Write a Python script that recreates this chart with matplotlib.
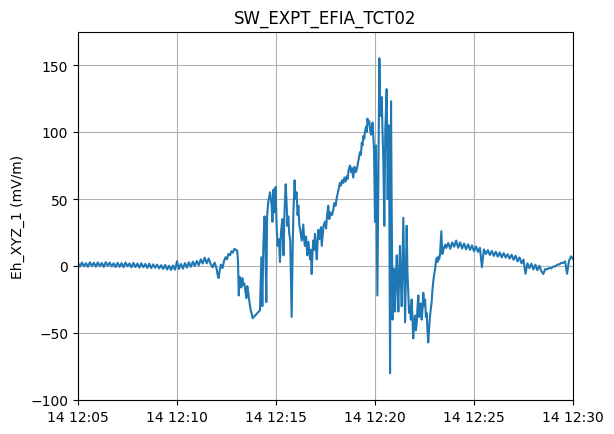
import numpy as np
import pandas as pd
import matplotlib
matplotlib.use("Agg")
import matplotlib.pyplot as plt
import matplotlib.dates as mdates

## start of record
t0 = pd.Timestamp("2016-03-14 12:05:00")

## quiet part, one sample every 0.1 min from 12:05
quiet1_v = [
    2.3, -0.4, 2.6, -0.2, 2.1, -0.6, 2.8, 0.0, 2.4, -0.5,
    2.7, -0.1, 2.2, -0.7, 2.9, 0.1, 2.5, -0.3, 2.0, -0.8,
    2.4, -0.6, 2.1, -0.9, 2.6, -0.2, 1.9, -1.0, 2.3, -0.8,
    1.8, -1.2, 2.0, -0.9, 1.5, -1.4, 1.7, -1.6, 1.2, -1.3,
    1.0, -1.8, 0.6, -2.2, 0.8, -2.6, 0.2, -3.0, 0.4, -2.8,
    3.6, -2.2, 1.5, -2.0, 2.2, -1.2, 2.8, -0.6, 3.2, 0.0,
    3.8, 0.6, 5.0, 1.8, 6.2, 2.0, 5.6, 1.5, -1.0, 2.5,
]

## active part (minutes after 12:05)
act_t = [
    7.00, 7.05, 7.10, 7.15, 7.22, 7.30, 7.38, 7.45, 7.52, 7.60,
    7.68, 7.75, 7.82, 7.90, 7.97, 8.04, 8.08, 8.12, 8.16, 8.20,
    8.25, 8.30, 8.35, 8.40, 8.45, 8.50, 8.55, 8.60, 8.66, 8.72,
    8.78, 8.82,
    9.19, 9.26, 9.31, 9.36, 9.42, 9.47, 9.51, 9.55, 9.61, 9.70,
    9.78, 9.82, 9.87, 9.92, 9.98, 10.03, 10.08, 10.15, 10.20, 10.25,
    10.32, 10.38, 10.43, 10.49, 10.54, 10.58, 10.62, 10.67, 10.72, 10.79,
    10.84, 10.88, 10.94, 10.98, 11.04, 11.09, 11.13, 11.18, 11.21, 11.30,
    11.34, 11.38, 11.42, 11.46, 11.52, 11.58, 11.64, 11.72, 11.77, 11.80,
    11.84, 11.88, 11.93, 11.97, 12.02, 12.06, 12.10, 12.14, 12.18, 12.22,
    12.27, 12.31, 12.35, 12.40, 12.47, 12.53, 12.58, 12.64, 12.69, 12.75,
    12.83, 12.89, 12.95, 13.01, 13.07, 13.13, 13.18, 13.23, 13.28, 13.33,
    13.40, 13.46, 13.51, 13.57, 13.62, 13.67, 13.74, 13.79, 13.84, 13.90,
    13.96, 14.02, 14.08, 14.13, 14.18, 14.24, 14.29, 14.33, 14.37, 14.41,
    14.46, 14.49, 14.55, 14.59, 14.62, 14.67, 14.71, 14.75, 14.80, 14.85,
    14.88, 14.92, 14.95, 15.00, 15.05, 15.12, 15.17, 15.22, 15.25, 15.29,
    15.34, 15.38, 15.42, 15.47, 15.52, 15.59, 15.64, 15.69, 15.72, 15.76,
    15.81, 15.84, 15.89, 15.96, 16.01, 16.05, 16.10, 16.14, 16.18, 16.22,
    16.26, 16.30, 16.35, 16.39, 16.43, 16.47, 16.52, 16.56, 16.60, 16.64,
    16.68, 16.72, 16.77, 16.81, 16.85, 16.89, 16.93, 16.98, 17.02, 17.06,
    17.10, 17.15, 17.19, 17.23, 17.27, 17.31, 17.36, 17.40, 17.44, 17.48,
    17.53, 17.57, 17.61, 17.65, 17.69, 17.74, 17.78, 17.82, 17.86, 17.90,
    17.94, 17.99, 18.03, 18.08, 18.12, 18.16, 18.20, 18.24, 18.28, 18.35,
    18.40, 18.45, 18.50, 18.55,
]
act_v = [
    -2.0, -6.5, -9.0, -4.0, 1.0, -1.5, 4.0, 6.5, 5.0, 9.0,
    8.0, 11.0, 10.0, 12.8, 12.0, 11.5, 4.0, -22.0, -8.0, -12.0,
    -16.0, -9.0, -14.0, -13.0, -18.0, -24.0, -15.0, -20.0, -27.0, -33.0,
    -36.0, -39.0,
    -33, 6.5, -30, 15, 37, 10, -27, 37, 48, 55,
    45, 33, 57, 40, 59, 30, 15, 20, 3, 25,
    35, 8, 40, 61, 45, 30, 37, 24, 19, -38,
    12, 40, 64, 50, 55, 38, 45, 30, 28, 19,
    25, 31, 20, 15, 22, 8, 18, 5, 12, -6,
    8, 19, 12, 24, 14, 5, 18, 27, 20, 22,
    29, 15, 22, 30, 33, 28, 38, 45, 35, 40,
    38, 42, 47, 45, 51, 55, 58, 62, 60, 64,
    62, 66, 63, 67, 65, 72, 75, 70, 73, 66,
    74, 70, 72, 76, 80, 85, 83, 92, 90, 97,
    95, 100, 104, 100, 110, 106, 108, 102, 98, 105,
    107, 95, 87, 33, 90, -22, 62, 155, 130, 112,
    126, 100, 80, 30, 102, 132, 50, 105, 60, -80,
    123, 48, -40, -2, -34, -10, 8, -15, -34, -5,
    15, -8, -30, 5, 36, 0, -42, -5, 30, -5,
    -20, -35, -30, -40, -25, -38, -54, -42, -37, -48,
    -44, -30, -22, -38, -35, -28, -40, -32, -20, -30,
    -25, -38, -35, -48, -57, -45, -37, -32, -27, -18,
    -12, -6, -3, 4, 6, 3, 7, 5, 8, 26,
    9, 12, 14, 16,
]

## quiet part after the event, one sample every 0.1 min from 12:23.6
quiet2_v = [
    13.5, 17.2, 12.8, 17.6,
    14.4, 19.0, 13.6, 17.6, 13.0, 16.8, 12.4, 16.2, 12.0, 15.4,
    11.0, 14.6, 10.5, 13.6, -0.8, 12.4, 9.0, 11.8, 8.2, 11.2,
    7.5, 10.7, 7.0, 10.1, 6.4, 9.6, 6.2, 8.8, 5.5, 8.4,
    4.6, 7.7, 3.4, 6.4, 2.0, 4.8, -5.8, 2.0, -1.6, 1.7,
    -2.6, 1.0, -3.2, 0.2, -3.7, -6.0, -2.3, -2.4, -1.5, -1.8,
    -0.4, -0.4, 1.0, 1.1, 2.3, 2.3, 3.4, -5.8, 4.0, 7.2,
    5.2,
]

## build time axis
minutes = np.concatenate([
    np.arange(len(quiet1_v)) * 0.1,
    np.array(act_t),
    18.6 + np.arange(len(quiet2_v)) * 0.1,
])
values = np.concatenate([quiet1_v, act_v, quiet2_v])
times = t0 + pd.to_timedelta(minutes, unit="min")

## chart
fig = plt.figure(figsize=(6.14, 4.35), dpi=100)
ax = fig.add_axes([78 / 614, 34 / 435, 495 / 614, 368.5 / 435])

ax.plot(times, values)

ax.set_xlim(t0, t0 + pd.Timedelta(minutes=25))
ax.set_ylim(-100, 175)
ax.xaxis.set_major_locator(mdates.MinuteLocator(byminute=range(0, 60, 5)))
ax.xaxis.set_major_formatter(mdates.DateFormatter("%d %H:%M"))
ax.grid(True)

ax.set_title("SW_EXPT_EFIA_TCT02")
ax.set_ylabel("Eh_XYZ_1 (mV/m)")

fig.savefig("out.png", dpi=100)
